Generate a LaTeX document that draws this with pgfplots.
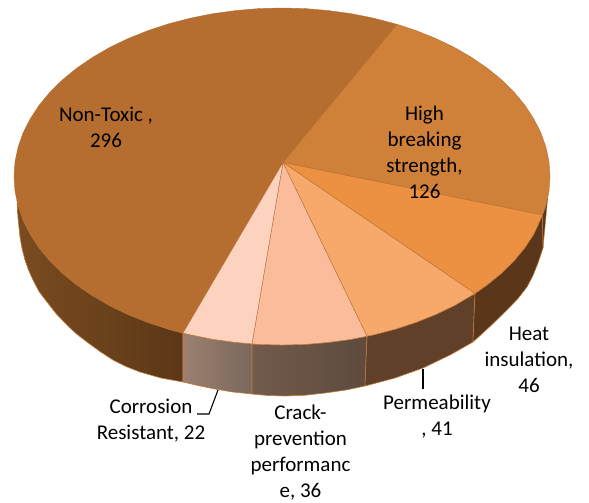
\documentclass[border=0pt]{standalone}
\usepackage{fontspec}
\setmainfont{Carlito}
\usepackage{pgfplots}
\pgfplotsset{compat=1.18}

\definecolor{topA}{HTML}{B56D30}
\definecolor{topB}{HTML}{CF8039}
\definecolor{topC}{HTML}{EC9141}
\definecolor{topD}{HTML}{F7A96C}
\definecolor{topE}{HTML}{FABC9A}
\definecolor{topF}{HTML}{FDD2BE}
\definecolor{seam}{HTML}{C07A38}
\definecolor{sideAa}{HTML}{7A4C20}
\definecolor{sideAb}{HTML}{5C3717}
\definecolor{sideFa}{HTML}{9C8070}
\definecolor{sideFb}{HTML}{7A675C}
\definecolor{sideEa}{HTML}{725A4C}
\definecolor{sideEb}{HTML}{5E4B3E}
\definecolor{sideD}{HTML}{61402A}
\definecolor{sideC}{HTML}{5A361A}

\begin{document}
\begin{tikzpicture}
\begin{axis}[
  scale only axis,
  width=589pt,height=503pt,
  xmin=0,xmax=589,ymin=0,ymax=503,
  y dir=reverse,
  hide axis,
  clip=false,
  nodes={font=\fontsize{21}{26}\selectfont,align=center,text=black,inner sep=0pt},
  line join=round
]
% sides of the disc
\addplot[left color=sideAa,right color=sideAb,draw=seam,line width=0.6pt] coordinates {
  (17,200) (23.1,220.1) (30.2,234.1) (39.1,247.7) (49.9,260.8) (62.5,273.2) (76.7,284.8)
  (92.5,295.6) (109.7,305.6) (128.3,314.5) (148,322.4) (168.7,329.2) (183,333.1)
  (183,382) (161,378) (140,372) (126,366.5) (113,360) (100,351.5) (87,342) (76,333.5) (67,325)
  (56,313.5) (47,302) (39,291.5) (33,280) (28.5,270) (25,260) (22,248.5) (20,237) (18,218) (17,200)};
\addplot[left color=sideFa,right color=sideFb,draw=seam,line width=0.6pt] coordinates {
  (183,333.1) (190.3,334.8) (212.6,339.3) (235.5,342.4) (252,343.9)
  (252,394) (233,392) (215,389) (198,385.5) (183,382) (183,333.1)};
\addplot[left color=sideEa,right color=sideEb,draw=seam,line width=0.6pt] coordinates {
  (252,343.9) (258.6,344.4) (282,345) (305.4,344.4) (328.5,342.4) (351.4,339.3) (367,336.2)
  (365,386) (346,390) (325,393) (305,395.2) (285,396) (268,395.5) (252,394) (252,343.9)};
\addplot[fill=sideD,draw=seam,line width=0.6pt] coordinates {
  (367,336.2) (373.7,334.8) (395.3,329.2) (416,322.4) (435.7,314.5) (454.3,305.6) (475,293.5)
  (473,342) (450,355) (423,368) (395,378) (365,386) (367,336.2)};
\addplot[fill=sideC,draw=seam,line width=0.6pt] coordinates {
  (475,293.5) (487.3,284.8) (501.5,273.2) (514.1,260.8) (524.9,247.7) (533.8,234.1) (542.5,215)
  (543,248) (538,263) (533,275.5) (527,287) (518,298.5) (507,310) (490,326.5) (473,342) (475,293.5)};
\addplot[fill=sideC,draw=seam,line width=0.4pt] coordinates {
  (542.5,215) (547.7,198) (543,248) (542.5,215)};
% top face
\addplot[fill=topA,draw=topA,line width=0.4pt] coordinates {
  (283,162.5) (183,333.1) (168.7,329.2) (148,322.4) (128.3,314.5) (109.7,305.6) (92.5,295.6)
  (76.7,284.8) (62.5,273.2) (49.9,260.8) (39.1,247.7) (30.2,234.1) (23.1,220.1) (18.1,205.8)
  (15,191.2) (14,176.5) (15,161.8) (18.1,147.2) (23.1,132.9) (30.2,118.9) (39.1,105.3)
  (49.9,92.2) (62.5,79.8) (76.7,68.2) (92.5,57.4) (109.7,47.4) (128.3,38.5) (148,30.6)
  (168.7,23.8) (190.3,18.2) (212.6,13.7) (235.5,10.6) (258.6,8.6) (282,8) (305.4,8.6)
  (328.5,10.6) (351.4,13.7) (373.7,18.2) (397,24.3) (283,162.5)};
\addplot[fill=topB,draw=topA,line width=0.4pt] coordinates {
  (283,162.5) (397,24.3) (416,30.6) (435.7,38.5) (454.3,47.4) (471.5,57.4) (487.3,68.2)
  (501.5,79.8) (514.1,92.2) (524.9,105.3) (533.8,118.9) (540.9,132.9) (545.9,147.2)
  (549,161.8) (550,176.5) (549,191.2) (545.9,205.8) (542.5,215) (283,162.5)};
\addplot[fill=topC,draw=topA,line width=0.4pt] coordinates {
  (283,162.5) (542.5,215) (533.8,234.1) (524.9,247.7) (514.1,260.8) (501.5,273.2)
  (487.3,284.8) (475,293.5) (283,162.5)};
\addplot[fill=topD,draw=topA,line width=0.4pt] coordinates {
  (283,162.5) (475,293.5) (454.3,305.6) (435.7,314.5) (416,322.4) (395.3,329.2)
  (373.7,334.8) (367,336.2) (283,162.5)};
\addplot[fill=topE,draw=topA,line width=0.4pt] coordinates {
  (283,162.5) (367,336.2) (351.4,339.3) (328.5,342.4) (305.4,344.4) (282,345) (258.6,344.4)
  (252,343.9) (283,162.5)};
\addplot[fill=topF,draw=topA,line width=0.4pt] coordinates {
  (283,162.5) (252,343.9) (235.5,342.4) (212.6,339.3) (190.3,334.8) (183,333.1) (283,162.5)};
% leader lines
\addplot[black,line width=1.1pt] coordinates {(423,369) (423,389)};
\addplot[black,line width=1.1pt] coordinates {(218,390) (209,414) (197,414)};
% labels
\node at (axis cs:106,127) {Non-Toxic ,\\296};
\node at (axis cs:424.5,152) {High\\breaking\\strength,\\126};
\node at (axis cs:529,360) {Heat\\insulation,\\46};
\node at (axis cs:437,417) {Permeability\\, 41};
\node at (axis cs:151,421) {Corrosion\\Resistant, 22};
\node at (axis cs:300.5,453) {Crack-\\prevention\\performanc\\e, 36};
\end{axis}
\useasboundingbox (0,0) rectangle (589pt,503pt);
\end{tikzpicture}
\end{document}
